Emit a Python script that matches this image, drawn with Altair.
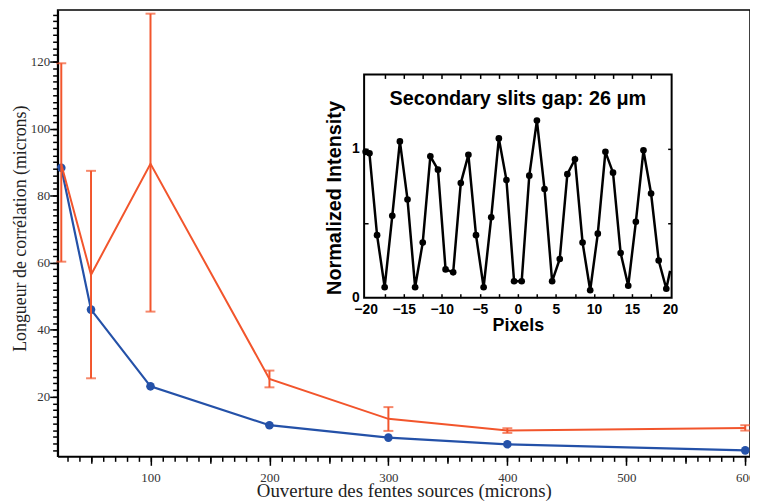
import altair as alt
import pandas as pd

# ---------------- main chart data ----------------
aperture = [25, 50, 100, 200, 300, 400, 600]
blue_length = [88.3, 46.0, 23.1, 11.5, 7.8, 5.8, 4.0]
orange_length = [89.4, 56.4, 89.5, 25.3, 13.4, 9.9, 10.7]
orange_low = [60.3, 25.5, 45.4, 22.8, 9.8, 9.2, 9.9]
orange_high = [119.5, 87.4, 134.3, 27.8, 16.9, 10.6, 11.5]

x_major_ticks = [100, 200, 300, 400, 500, 600]
x_mid_ticks = [50, 150, 250, 350, 450, 550]
x_minor_ticks = list(range(30, 601, 10))
y_major_ticks = [20, 40, 60, 80, 100, 120]
y_minor_ticks = list(range(4, 135, 2))

# ---------------- inset data ----------------
pixels = [-20.0, -19.5, -18.5, -17.5, -16.5, -15.5, -14.5, -13.5, -12.5, -11.5,
          -10.5, -9.5, -8.5, -7.5, -6.5, -5.5, -4.5, -3.5, -2.5, -1.5, -0.5,
          0.5, 1.5, 2.5, 3.5, 4.5, 5.5, 6.5, 7.5, 8.5, 9.5, 10.5, 11.5, 12.5,
          13.5, 14.5, 15.5, 16.5, 17.5, 18.5, 19.5, 20.0]
intensity = [0.98, 0.97, 0.42, 0.07, 0.55, 1.05, 0.66, 0.07, 0.37, 0.95,
             0.86, 0.19, 0.17, 0.77, 0.96, 0.42, 0.07, 0.54, 1.07, 0.79, 0.11,
             0.11, 0.82, 1.19, 0.73, 0.11, 0.26, 0.83, 0.93, 0.37, 0.05, 0.43,
             0.98, 0.84, 0.30, 0.08, 0.51, 0.99, 0.70, 0.25, 0.06, 0.18]
inset_x_labels = [-20, -15, -10, -5, 0, 5, 10, 15, 20]
inset_x_ticks = [-17.5, -15, -12.5, -10, -7.5, -5, -2.5, 0, 2.5, 5, 7.5, 10, 12.5, 15, 17.5]
inset_y_labels = [0, 1]
inset_y_ticks = [0.5, 1]
inset_title = ["Secondary slits gap: 26 \u03bcm"]
inset_title_pos = [0.0, 1.335]
inset_extent_x = [-20.2, 20.2]
inset_extent_y = [0.0, 1.5]

BLUE = "#2451a8"
ORANGE = "#f2552c"
W, H = 698, 450
SERIF = "Liberation Serif"
SANS = "Liberation Sans"

XM = alt.Scale(domain=[21.9, 604], nice=False, zero=False)
YM = alt.Scale(domain=[2.2, 135.4], nice=False, zero=False)
XI = alt.Scale(domain=inset_extent_x, range=[309, 619], nice=False, zero=False)
YI = alt.Scale(domain=inset_extent_y, range=[290, 65], nice=False, zero=False)

main_df = pd.DataFrame({"ap": aperture, "blue": blue_length, "orange": orange_length,
                        "lo": orange_low, "hi": orange_high})
inset_df = pd.DataFrame({"px": pixels, "val": intensity})
frame_df = pd.DataFrame({"xa": [inset_extent_x[0]], "xb": [inset_extent_x[1]],
                         "ya": [inset_extent_y[0]], "yb": [inset_extent_y[1]]})
title_df = pd.DataFrame({"tx": [inset_title_pos[0]], "ty": [inset_title_pos[1]], "label": inset_title})

# bare tick-only axis style
def tick_axis(orient, values, size, offset=0, width=1.5):
    return alt.Axis(orient=orient, values=values, offset=offset, labels=False, domain=False,
                    ticks=True, tickSize=size, tickWidth=width, tickColor="black",
                    grid=False, title=None, zindex=1)

x_main_axis = alt.Axis(
    orient="bottom", values=x_major_ticks, tickSize=9, tickWidth=1.5, tickColor="black",
    domainColor="black", domainWidth=2,
    labelFont=SERIF, labelFontSize=13, labelColor="#333333", labelPadding=6,
    labelOverlap=False, labelFlush=False, grid=False,
    title="Ouverture des fentes sources (microns)", titleFont=SERIF, titleFontSize=19,
    titleFontWeight="normal", titleColor="#222222", titleY=40, titleBaseline="alphabetic",
)
y_main_axis = alt.Axis(
    orient="left", values=y_major_ticks, tickSize=8, tickWidth=1.5, tickColor="black",
    domainColor="black", domainWidth=2,
    labelFont=SERIF, labelFontSize=13, labelColor="#333333", labelPadding=0,
    labelOverlap=False, grid=False,
    title="Longueur de corrélation (microns)", titleFont=SERIF, titleFontSize=18,
    titleFontWeight="normal", titleColor="#222222", titleX=-37, titleY=220,
    titleBaseline="middle",
)

base = alt.Chart(main_df)
xn = alt.X("ap:Q", scale=XM, axis=None)

blue_line = base.mark_line(color=BLUE, strokeWidth=2.2).encode(
    x=alt.X("ap:Q", scale=XM, axis=x_main_axis),
    y=alt.Y("blue:Q", scale=YM, axis=y_main_axis),
)
blue_pts = base.mark_circle(color=BLUE, size=75, opacity=1).encode(
    x=alt.X("ap:Q", scale=XM, axis=tick_axis("bottom", x_minor_ticks, 5)),
    y=alt.Y("blue:Q", scale=YM, axis=tick_axis("left", y_minor_ticks, 5)),
)
orange_line = base.mark_line(color=ORANGE, strokeWidth=2).encode(
    x=alt.X("ap:Q", scale=XM, axis=tick_axis("bottom", x_mid_ticks, 7)),
    y=alt.Y("orange:Q", scale=YM, axis=None),
)
err_rule = base.mark_rule(color=ORANGE, strokeWidth=2).encode(
    x=xn, y=alt.Y("lo:Q", scale=YM, axis=None), y2="hi:Q")
cap_lo = base.mark_tick(color=ORANGE, orient="horizontal", size=10, thickness=2).encode(
    x=xn, y=alt.Y("lo:Q", scale=YM, axis=None))
cap_hi = base.mark_tick(color=ORANGE, orient="horizontal", size=10, thickness=2).encode(
    x=xn, y=alt.Y("hi:Q", scale=YM, axis=None))

frame = alt.Chart(frame_df).mark_rect(fill="white", stroke="black", strokeWidth=2).encode(
    x=alt.X("xa:Q", scale=XI, axis=tick_axis("top", inset_x_ticks, 4, offset=-290)),
    x2="xb:Q",
    y=alt.Y("ya:Q", scale=YI, axis=tick_axis("right", inset_y_ticks, 4, offset=-389)),
    y2="yb:Q",
)

inset_line = alt.Chart(inset_df).mark_line(color="black", strokeWidth=2.5).encode(
    x=alt.X("px:Q", scale=XI, axis=alt.Axis(
        orient="bottom", offset=-160, values=inset_x_labels, domain=False, ticks=False,
        labelFont=SANS, labelFontWeight="bold", labelFontSize=14, labelColor="black",
        labelPadding=5, labelFlush=False, labelOverlap=False, grid=False,
        title="Pixels", titleFont=SANS, titleFontSize=18, titleFontWeight="bold",
        titleColor="black", titlePadding=0, zindex=1)),
    y=alt.Y("val:Q", scale=YI, axis=alt.Axis(
        orient="left", offset=-309, values=inset_y_labels, domain=False, ticks=False,
        labelFont=SANS, labelFontWeight="bold", labelFontSize=14, labelColor="black",
        labelPadding=5, labelFlush=False, labelOverlap=False, grid=False,
        title="Normalized Intensity", titleFont=SANS, titleFontSize=20, titleFontWeight="bold",
        titleColor="black", titleX=-30, titleY=189, titleBaseline="middle", zindex=1)),
)
inset_pts = alt.Chart(inset_df).transform_filter("datum.px < 20").mark_circle(
    color="black", size=45, opacity=1).encode(
    x=alt.X("px:Q", scale=XI, axis=None),
    y=alt.Y("val:Q", scale=YI, axis=None),
)
title_layer = alt.Chart(title_df).mark_text(
    font=SANS, fontWeight="bold", fontSize=20, color="black").encode(
    x=alt.X("tx:Q", scale=XI, axis=tick_axis("bottom", inset_x_ticks, 4, offset=-385)),
    y=alt.Y("ty:Q", scale=YI, axis=tick_axis("left", inset_y_ticks, 4, offset=-619)),
    text="label:N",
)

chart = alt.layer(
    blue_line, blue_pts, orange_line, err_rule, cap_lo, cap_hi,
    frame, inset_line, inset_pts, title_layer,
).resolve_scale(x="independent", y="independent").properties(
    width=W, height=H,
    autosize=alt.AutoSizeParams(type="none"),
    padding={"left": 50, "top": 0, "right": 0, "bottom": 45},
).configure_view(stroke="black", strokeWidth=1.5)

chart.save("out.html", embed_options={"renderer": "svg", "actions": False})
